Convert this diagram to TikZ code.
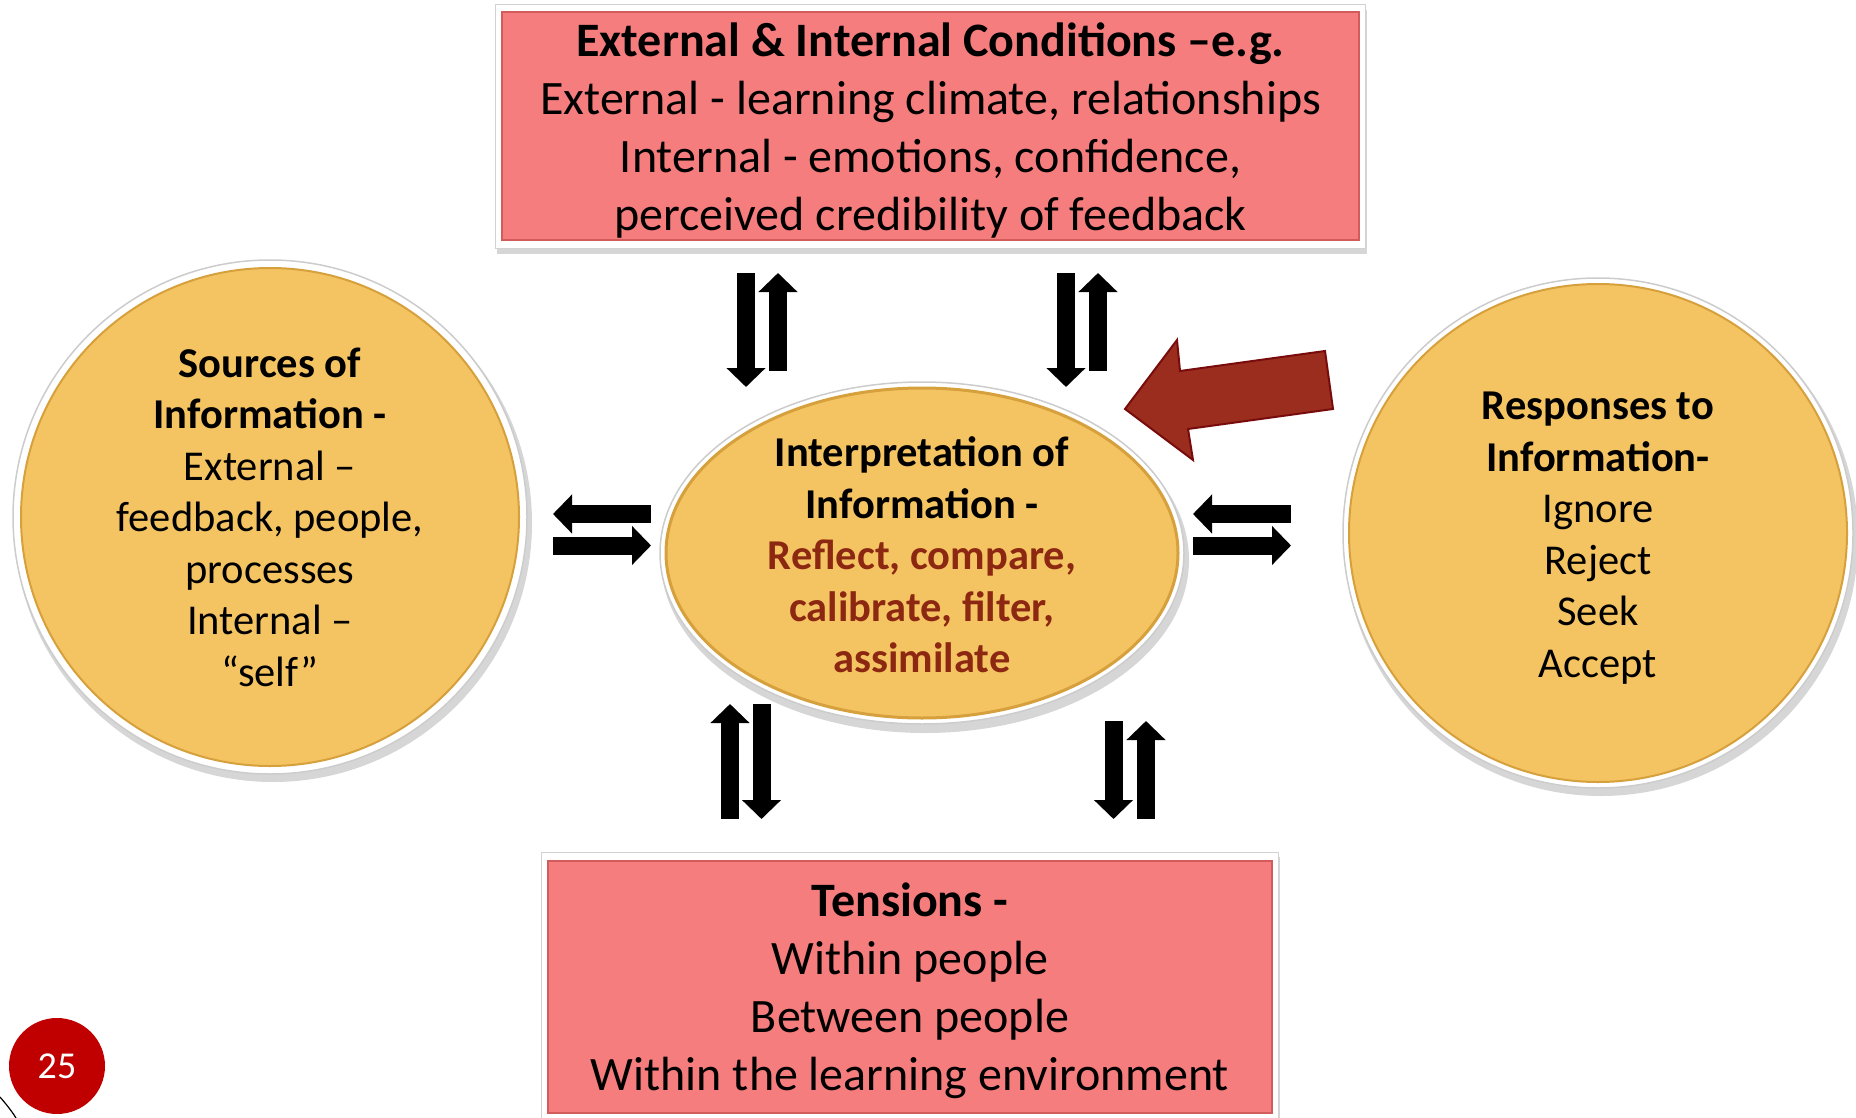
\documentclass[tikz,border=0pt]{standalone}
\usepackage{fontspec}
\setmainfont{Carlito}
\usetikzlibrary{arrows.meta}
\definecolor{boxred}{RGB}{245,125,125}
\definecolor{boxedge}{RGB}{210,92,92}
\definecolor{gold}{RGB}{245,196,98}
\definecolor{goldedge}{RGB}{214,160,60}
\definecolor{txtred}{RGB}{140,40,18}
\definecolor{bigarrow}{RGB}{155,45,30}
\definecolor{bigarrowedge}{RGB}{120,12,12}
\definecolor{pagered}{RGB}{192,0,0}
\begin{document}
\begin{tikzpicture}[x=1pt,y=-1pt,
  boxtxt/.style={align=center,inner sep=0pt,font=\fontsize{48}{58}\selectfont},
  disc/.style={circle,minimum size=498pt,inner sep=0pt,fill=gold,draw=goldedge,line width=2pt},
  disctxt/.style={align=center,inner sep=0pt,font=\fontsize{42.5}{51.5}\selectfont},
  blk/.style={draw=black,line width=18pt,-{Triangle[length=19pt,width=38pt]}},
  shade/.style={fill=black,opacity=0.16}]
\useasboundingbox (0,0) rectangle (1856,1118);

% ---------- top box ----------
\fill[shade] (497,10) rectangle (1367,254);
\fill[white,draw=gray!35,line width=1pt] (495,5) rectangle (1365,249);
\node[draw=boxedge,line width=1.5pt,fill=boxred,minimum width=857pt,minimum height=228pt,inner sep=0pt]
  (cond) at (930.5,126) {};
\node[boxtxt] (condtxt) at (930.5,130) {\textbf{External \& Internal Conditions –e.g.}\\
  External - learning climate, relationships\\
  Internal - emotions, confidence,\\
  perceived credibility of feedback};

% ---------- bottom box ----------
\fill[shade] (543,857) rectangle (1280,1125);
\fill[white,draw=gray!35,line width=1pt] (541,852) rectangle (1278,1122);
\node[draw=boxedge,line width=1.5pt,fill=boxred,minimum width=724pt,minimum height=252pt,inner sep=0pt]
  (tens) at (910,987) {};
\node[boxtxt] (tenstxt) at (910,991) {\textbf{Tensions -}\\
  Within people\\
  Between people\\
  Within the learning environment};

% ---------- left circle ----------
\fill[shade] (273,523) circle (259);
\fill[white,draw=gray!40,line width=1.5pt] (270,517) circle (257);
\node[disc] (src) at (270,517) {};
\node[disctxt] (srctxt) at (270,517) {\textbf{Sources of}\\ \textbf{Information -}\\ External –\\
  feedback, people,\\ processes\\ Internal –\\ “self”};

% ---------- right circle ----------
\fill[shade] (1601,539) circle (257);
\fill[white,draw=gray!40,line width=1.5pt] (1598,533) circle (255);
\node[disc] (resp) at (1598,533) {};
\node[disctxt] (resptxt) at (1598,538) {\textbf{Responses to}\\ \textbf{Information-}\\ Ignore\\ Reject\\ Seek\\ Accept};

% ---------- centre ellipse ----------
\fill[shade] (925,560) ellipse [x radius=264,y radius=173];
\fill[white,draw=gray!40,line width=1.5pt] (922,553) ellipse [x radius=262,y radius=171];
\fill[gold,draw=goldedge,line width=3pt] (922,553) ellipse [x radius=256,y radius=165];
\node[disctxt,font=\bfseries\fontsize{42.5}{51.5}\selectfont] (interp) at (922,555)
  {Interpretation of\\ Information -\\ \textcolor{txtred}{Reflect, compare,}\\
   \textcolor{txtred}{calibrate, filter,}\\ \textcolor{txtred}{assimilate}};

% ---------- block arrows ----------
\coordinate (a1s) at (746,273);  \coordinate (a1e) at (746,387);
\coordinate (a2s) at (778,371);  \coordinate (a2e) at (778,273);
\coordinate (a3s) at (1066,273); \coordinate (a3e) at (1066,387);
\coordinate (a4s) at (1098,371); \coordinate (a4e) at (1098,273);
\coordinate (b1s) at (730,819);  \coordinate (b1e) at (730,704);
\coordinate (b2s) at (761.5,704);\coordinate (b2e) at (761.5,819);
\coordinate (b3s) at (1113.5,721);\coordinate (b3e) at (1113.5,819);
\coordinate (b4s) at (1146,819); \coordinate (b4e) at (1146,721);
\coordinate (l1s) at (651,514);  \coordinate (l1e) at (553,514);
\coordinate (l2s) at (553,545.5);\coordinate (l2e) at (651,545.5);
\coordinate (r1s) at (1291,514); \coordinate (r1e) at (1193,514);
\coordinate (r2s) at (1193,545.5);\coordinate (r2e) at (1291,545.5);
\foreach \p in {a1,a2,a3,a4,b1,b2,b3,b4,l1,l2,r1,r2}
  \draw[blk] (\p s) -- (\p e);

% ---------- big red arrow ----------
\draw[fill=bigarrow,draw=bigarrowedge,line width=2pt,line join=miter]
  (1125,409) -- (1177,340) -- (1180,371) -- (1325,351) -- (1333,409) -- (1188,429) -- (1193,460) -- cycle;

% ---------- page number ----------
\draw[black,line width=1.2pt] (0,1097) .. controls (6,1104) and (11,1110) .. (16,1118);
\node[circle,fill=pagered,minimum size=96pt,inner sep=0pt,text=white,font=\fontsize{38}{40}\selectfont]
  (pg) at (57,1066) {25};
\end{tikzpicture}
\end{document}
